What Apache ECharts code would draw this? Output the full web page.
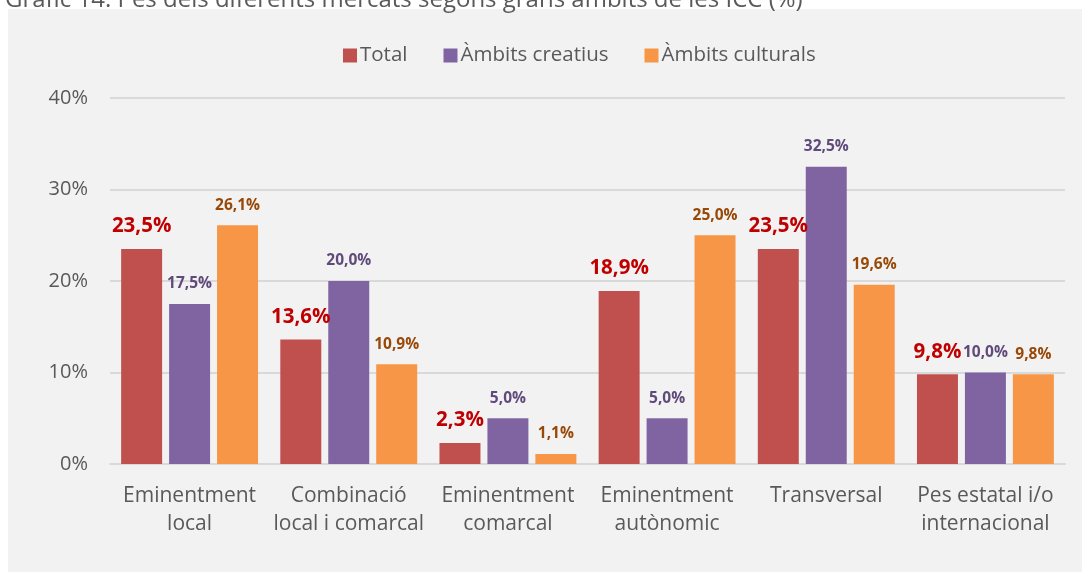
<!DOCTYPE html>
<html>
<head>
<meta charset="utf-8">
<script src="https://cdn.jsdelivr.net/npm/echarts@6/dist/echarts.min.js"></script>
<style>
   html, body { margin: 0; padding: 0; background: #fff; }
   #chart { width: 1092px; height: 572px; }
</style>
</head>
<body>
<div id="chart"></div>
<script>
// dades del gràfic
const categories = ['Eminentment\nlocal', 'Combinació\nlocal i comarcal', 'Eminentment\ncomarcal', 'Eminentment\nautònomic', 'Transversal', 'Pes estatal i/o\ninternacional']
const totalValues = [23.5, 13.6, 2.3, 18.9, 23.5, 9.8]
const creatiusValues = [17.5, 20.0, 5.0, 5.0, 32.5, 10.0]
const culturalsValues = [26.1, 10.9, 1.1, 25.0, 19.6, 9.8]
const yTicks = [0, 10, 20, 30, 40]

const font = '"Open Sans", sans-serif'
const fmt = p => p.value.toFixed(1).replace('.', ',') + '%'

let chart = echarts.init(document.getElementById('chart'))
let option = {
   backgroundColor: '#ffffff',
   title: {
      text: 'Gràfic 14. Pes dels diferents mercats segons grans àmbits de les ICC (%)',
      left: 0,
      top: -17,
      textStyle: { color: '#595959', fontSize: 24, fontWeight: 'normal', fontFamily: font }
   },
   graphic: [{
      type: 'rect',
      z: -10,
      shape: { x: 8, y: 9, width: 1074, height: 570 },
      style: { fill: '#f2f2f2' }
   }],
   legend: {
      top: 40,
      left: 338,
      itemWidth: 14,
      itemHeight: 14,
      itemGap: 36,
      icon: 'rect',
      textStyle: { color: '#595959', fontSize: 20.5, fontFamily: font, padding: [0, 0, 0, -2] }
   },
   grid: { left: 110, right: 27, top: 98, bottom: 108 },
   xAxis: {
      type: 'category',
      data: categories,
      axisLine: { lineStyle: { color: '#d9d9d9', width: 2 } },
      axisTick: { show: false },
      axisLabel: { color: '#595959', fontSize: 21, fontFamily: font, lineHeight: 28, margin: 18, interval: 0 }
   },
   yAxis: {
      type: 'value',
      min: yTicks[0],
      max: yTicks[yTicks.length - 1],
      interval: 10,
      axisLine: { show: false },
      axisTick: { show: false },
      splitLine: { lineStyle: { color: '#d9d9d9', width: 2 } },
      axisLabel: { color: '#595959', fontSize: 20, fontFamily: font, margin: 22, formatter: '{value}%' }
   },
   series: [
      {
         name: 'Total',
         type: 'bar',
         data: totalValues,
         itemStyle: { color: '#c0504d' },
         barGap: '17%',
         barCategoryGap: '14%',
         label: { show: true, position: 'top', distance: 12, formatter: fmt, color: '#c00000', fontWeight: 'bold', fontSize: 20.5, fontFamily: font }
      },
      {
         name: 'Àmbits creatius',
         type: 'bar',
         data: creatiusValues,
         itemStyle: { color: '#8064a2' },
         label: { show: true, position: 'top', distance: 12, formatter: fmt, color: '#604a7b', fontWeight: 'bold', fontSize: 15.5, fontFamily: font }
      },
      {
         name: 'Àmbits culturals',
         type: 'bar',
         data: culturalsValues,
         itemStyle: { color: '#f79646' },
         label: { show: true, position: 'top', distance: 12, formatter: fmt, color: '#984807', fontWeight: 'bold', fontSize: 15.5, fontFamily: font }
      }
   ]
}
chart.setOption(option)
</script>
</body>
</html>
